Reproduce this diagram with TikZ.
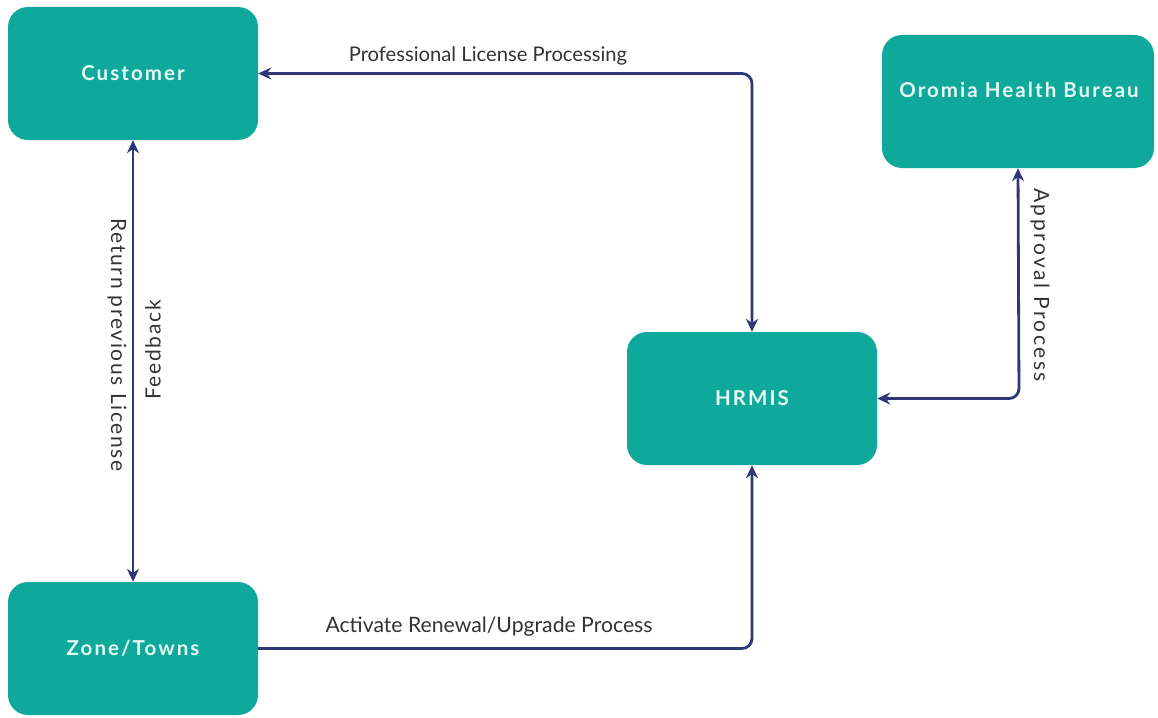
\documentclass[tikz,border=0pt]{standalone}
\usepackage{fontspec}
\setmainfont{Lato}
\newfontfamily\boxfont[LetterSpace=10]{Lato}
\newfontfamily\vfont[LetterSpace=8]{Lato}
\newfontfamily\vwfont[LetterSpace=12]{Lato}
\usetikzlibrary{arrows.meta}
\definecolor{teal1}{HTML}{0FA99B}
\definecolor{boxtxt}{HTML}{E6FBF8}
\definecolor{navy}{HTML}{2E3878}
\definecolor{lbl}{HTML}{333333}
\tikzset{
  box/.style={fill=teal1, draw=none, rounded corners=20pt, minimum width=250pt, minimum height=133pt, inner sep=0pt},
  boxlabel/.style={text=boxtxt, font=\boxfont\fontsize{20.5}{24}\selectfont\bfseries},
  conn/.style={draw=navy, line width=2.8pt, rounded corners=10pt},
  tip/.style={-{Stealth[length=13pt,width=12pt]}},
  tips/.style={{Stealth[length=13pt,width=12pt]}-{Stealth[length=13pt,width=12pt]}},
  lab/.style={text=lbl, font=\fontsize{20.2}{24}\selectfont, inner sep=0pt},
  vlab/.style={text=lbl, font=\vfont\fontsize{21}{24}\selectfont, inner sep=0pt}
}
\begin{document}
\begin{tikzpicture}[x=1pt,y=-1pt]
\useasboundingbox (0,0) rectangle (1158,717);
\node[box] (cust) at (133,73.5) {};
\node[boxlabel] at (133,73.5) {Customer};
\node[box, minimum width=272pt, minimum height=133pt] (ohb) at (1018,101.5) {};
\node[boxlabel] at (1019,90) {Oromia Health Bureau};
\node[box] (hr) at (752,398.5) {};
\node[boxlabel] at (752,398.5) {HRMIS};
\node[box] (zone) at (133,648.5) {};
\node[boxlabel] at (133,648.5) {Zone/Towns};

\coordinate (c1) at (752,73.5);
\coordinate (c2) at (752,648.5);
\coordinate (c3) at (1019,398.5);

\draw[conn, tips] (cust.south) -- (zone.north);
\draw[conn, tips] (cust.east) -- (c1) -- (hr.north);
\draw[conn, tip] (zone.east) -- (c2) -- (hr.south);
\draw[conn, tips] (ohb.south) -- (c3) -- (hr.east);

\node[lab] (l1) at (488,56) {Professional License Processing};
\node[lab, font=\fontsize{21.2}{24}\selectfont] (l2) at (489,627) {Activate Renewal/Upgrade Process};
\node[vlab, font=\vwfont\fontsize{21}{24}\selectfont, rotate=-90] (l3) at (1040,285) {Approval Process};
\node[vlab, rotate=-90] (l4) at (117,345) {Return previous License};
\node[vlab, rotate=90] (l5) at (153,350) {Feedback};
\end{tikzpicture}
\end{document}
